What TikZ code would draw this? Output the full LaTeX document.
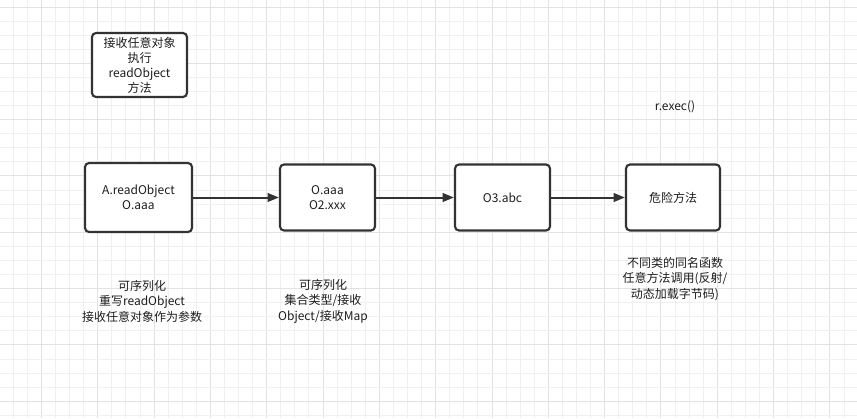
\documentclass[tikz,border=0pt]{standalone}
\usepackage{fontspec}
\setmainfont{Noto Sans CJK SC}
\usetikzlibrary{arrows.meta}
\definecolor{gridminor}{HTML}{F0F0F0}
\definecolor{gridmajor}{HTML}{E2E2E2}
\definecolor{ink}{HTML}{333333}
\definecolor{txt}{HTML}{1E1E1E}
\tikzset{
  box/.style={draw=ink, line width=1.6pt, rounded corners=3pt, fill=white,
    align=center, inner sep=0pt, text=txt,
    font=\fontsize{9}{11.25}\selectfont},
  lbl/.style={align=center, inner sep=0pt, text=txt,
    font=\fontsize{9}{11.6}\selectfont},
  conn/.style={draw=ink, line width=1.5pt, -{Triangle[length=8.5pt,width=6.5pt]}}
}
\begin{document}
\begin{tikzpicture}[x=0.75pt,y=-0.75pt]
\useasboundingbox (0,0) rectangle (857,418);
\fill[white] (0,0) rectangle (857,418);
% grid
\foreach \k in {0,...,60}{
  \pgfmathsetmacro{\gx}{13.3+14.08*\k}
  \pgfmathtruncatemacro{\m}{mod(\k,4)}
  \ifnum\m=2
    \draw[gridmajor, line width=0.75pt] (\gx,0) -- (\gx,418);
  \else
    \draw[gridminor, line width=0.75pt] (\gx,0) -- (\gx,418);
  \fi
}
\foreach \k in {0,...,29}{
  \pgfmathsetmacro{\gy}{7+14.08*\k}
  \pgfmathtruncatemacro{\m}{mod(\k,4)}
  \ifnum\m=0
    \draw[gridmajor, line width=0.75pt] (0,\gy) -- (857,\gy);
  \else
    \draw[gridminor, line width=0.75pt] (0,\gy) -- (857,\gy);
  \fi
}
% nodes
\node[box, minimum width=95*0.75pt, minimum height=64*0.75pt] (top) at (139.5,65)
  {接收任意对象\\执行\\readObject\\方法};
\node[box, minimum width=107*0.75pt, minimum height=69*0.75pt] (a) at (138.5,197.5)
  {A.readObject\\O.aaa};
\node[box, minimum width=95*0.75pt, minimum height=66*0.75pt] (b) at (327.5,197.5)
  {O.aaa\\O2.xxx};
\node[box, minimum width=95*0.75pt, minimum height=66*0.75pt] (c) at (502.5,197.5)
  {O3.abc};
\node[box, minimum width=94*0.75pt, minimum height=66*0.75pt] (d) at (673,197.5)
  {危险方法};
% connectors
\draw[conn] (a) -- (b);
\draw[conn] (b) -- (c);
\draw[conn] (c) -- (d);
% labels
\node[lbl] (l1) at (142,301) {可序列化\\重写readObject\\接收任意对象作为参数};
\node[lbl] (l2) at (323,301) {可序列化\\集合类型/接收\\Object/接收Map};
\node[lbl] (l3) at (675,279) {不同类的同名函数\\任意方法调用(反射/\\动态加载字节码)};
\node[lbl] (r) at (675,107) {r.exec()};
\end{tikzpicture}
\end{document}
